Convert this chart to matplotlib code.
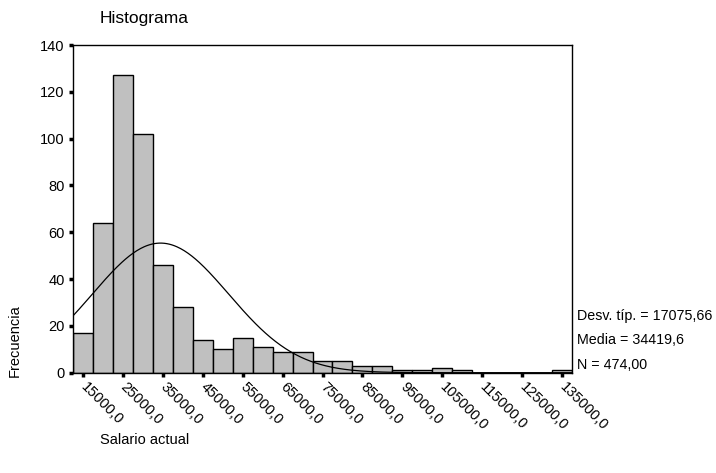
import numpy as np
import matplotlib
matplotlib.use("Agg")
import matplotlib.pyplot as plt
import matplotlib.transforms as mtransforms

plt.rcParams['font.family'] = ['Liberation Sans', 'DejaVu Sans']

bin_centers = [15000, 20000, 25000, 30000, 35000, 40000, 45000, 50000, 55000,
               60000, 65000, 70000, 75000, 80000, 85000, 90000, 95000, 100000,
               105000, 110000, 115000, 120000, 125000, 130000, 135000]
counts = [17, 64, 127, 102, 46, 28, 14, 10, 15, 11, 9, 9, 5, 5, 3, 3, 1, 1,
          2, 1, 0, 0, 0, 0, 1]
bin_width = 5000
tick_values = [15000, 25000, 35000, 45000, 55000, 65000, 75000, 85000, 95000,
               105000, 115000, 125000, 135000]
tick_labels = ["15000,0", "25000,0", "35000,0", "45000,0", "55000,0", "65000,0",
               "75000,0", "85000,0", "95000,0", "105000,0", "115000,0",
               "125000,0", "135000,0"]
mean = 34419.6
sd = 17075.66
n = 474

fig = plt.figure(figsize=(7.16, 4.73), dpi=100)
ax = fig.add_axes([73/716, 1-372.7/473, (572-73)/716, (372.7-45)/473])

ax.bar(bin_centers, counts, width=bin_width, color='#c0c0c0', edgecolor='black',
       linewidth=1.0, zorder=2)

xs = np.linspace(12500, 137500, 400)
ys = n * bin_width / (sd * np.sqrt(2*np.pi)) * np.exp(-0.5*((xs-mean)/sd)**2)
ax.plot(xs, ys, color='black', linewidth=0.9, zorder=3)

ax.set_xlim(12500, 137500)
ax.set_ylim(0, 140)
ax.set_yticks(range(0, 141, 20))
ax.set_yticklabels([str(v) for v in range(0, 141, 20)], fontsize=10.5)
ax.set_xticks(tick_values)
ax.set_xticklabels(tick_labels, rotation=-45, ha='left', va='top',
                   rotation_mode='anchor', fontsize=10.5)
ax.tick_params(axis='both', direction='out', length=3, width=2.5, color='black')
ax.tick_params(axis='x', pad=2)
ax.tick_params(axis='y', pad=3)
offset = mtransforms.ScaledTranslation(5/100, 0, fig.dpi_scale_trans)
for lab in ax.get_xticklabels():
    lab.set_transform(lab.get_transform() + offset)
for s in ax.spines.values():
    s.set_linewidth(1.0)

fig.text(100/716, 1-19/473, "Histograma", fontsize=12.5, ha='left', va='center')
fig.text(100/716, 1-440/473, "Salario actual", fontsize=10.5, ha='left', va='center')
fig.text(15/716, 1-341/473, "Frecuencia", fontsize=10.5, rotation=90,
         ha='center', va='center')

fig.text(577/716, 1-320/473, "Desv. típ. = 17075,66", fontsize=10.3, ha='left', va='baseline')
fig.text(577/716, 1-344/473, "Media = 34419,6", fontsize=10.3, ha='left', va='baseline')
fig.text(577/716, 1-369/473, "N = 474,00", fontsize=10.3, ha='left', va='baseline')

fig.savefig("out.png", dpi=100)
